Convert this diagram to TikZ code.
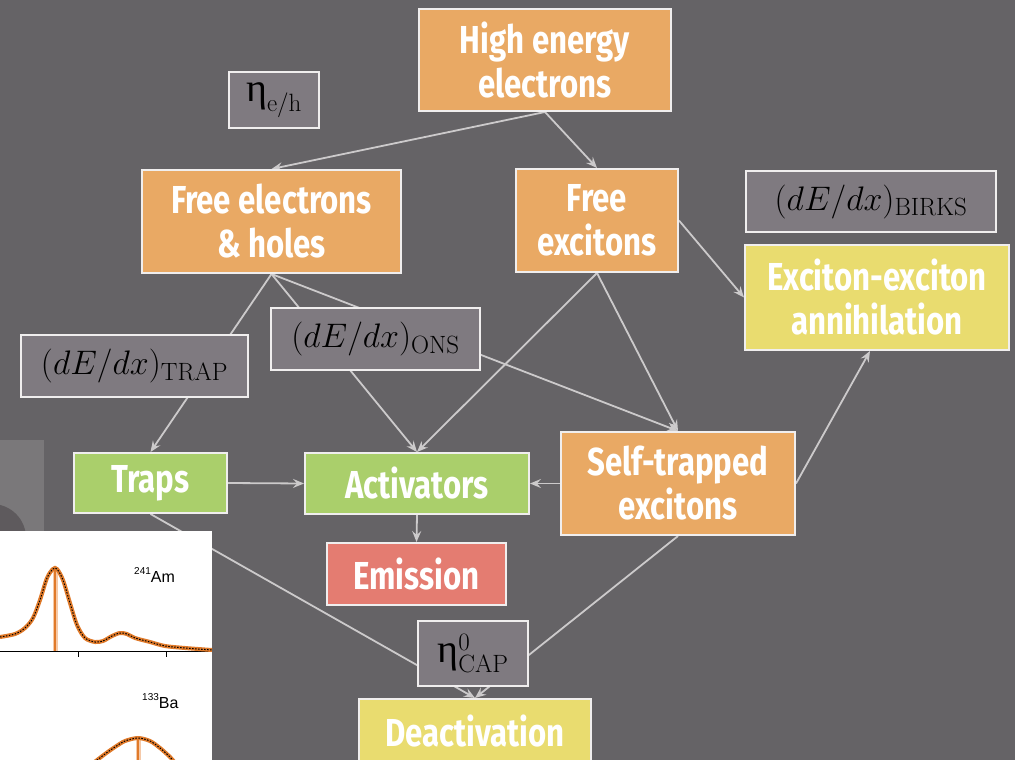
\RequirePackage{fix-cm}
\documentclass[tikz,border=0pt]{standalone}
\usepackage{fontspec}
\newfontfamily\bx[FakeStretch=0.8]{Fira Sans}
\newfontfamily\grk{Liberation Serif}
\newfontfamily\plotfont{Liberation Sans}
\usetikzlibrary{arrows.meta,calc}
\DeclareMathSizes{34}{34}{25}{18}
\definecolor{bgc}{HTML}{656366}
\definecolor{orangec}{HTML}{E9A964}
\definecolor{yellowc}{HTML}{E9DC6F}
\definecolor{greenc}{HTML}{AACF6B}
\definecolor{redc}{HTML}{E47C71}
\definecolor{labgray}{HTML}{7F7A80}
\definecolor{borderc}{HTML}{F0EEEE}
\definecolor{linec}{HTML}{CCCACB}
\definecolor{decoc}{HTML}{7A787A}
\definecolor{decodark}{HTML}{5E5A5D}
\definecolor{fitc}{HTML}{E07A2A}
\definecolor{bandc}{HTML}{F5C9A8}
\pgfdeclarelayer{bg}
\pgfdeclarelayer{edges}
\pgfsetlayers{bg,edges,main}
\newcommand{\bigeta}{\mbox{\grk\fontsize{40}{40}\selectfont η}}
\tikzset{
  box/.style={draw=borderc, line width=2pt, inner sep=0pt, align=center, text=white,
    font=\bx\bfseries\fontsize{39}{44}\selectfont},
  ob/.style={box, fill=orangec},
  yb/.style={box, fill=yellowc},
  gb/.style={box, fill=greenc},
  rb/.style={box, fill=redc},
  lab/.style={draw=borderc, line width=2pt, fill=labgray, inner sep=0pt, text=black,
    font=\fontsize{34}{40}\selectfont},
  conn/.style={draw=linec, line width=1.8pt, -{Stealth[length=11pt,width=9pt,inset=4pt]}}
}
\begin{document}
\begin{tikzpicture}[x=1pt,y=-1pt]
\useasboundingbox (0,0) rectangle (1015,760);
\begin{pgfonlayer}{bg}
  \fill[bgc] (0,0) rectangle (1015,760);
  \begin{scope}
    \clip (0,440) rectangle (44,531);
    \fill[decoc] (0,440) rectangle (44,531);
    \fill[decodark] (-8,538) circle (34);
  \end{scope}
\end{pgfonlayer}

% main nodes
\node[ob, minimum width=252pt, minimum height=102pt] (he) at (545,60) {High energy\\electrons};
\node[ob, minimum width=259pt, minimum height=103pt] (feh) at (271.5,221.5) {Free electrons\\\& holes};
\node[ob, minimum width=162pt, minimum height=103pt] (fx) at (597,220.5) {Free\\excitons};
\node[yb, minimum width=264pt, minimum height=105pt] (ann) at (877,297.5) {Exciton-exciton\\annihilation};
\node[gb, minimum width=153pt, minimum height=60pt] (traps) at (150.5,483) {Traps};
\node[gb, minimum width=224pt, minimum height=61pt] (act) at (417,483.5) {Activators};
\node[ob, minimum width=234pt, minimum height=103pt] (ste) at (678,483.5) {Self-trapped\\excitons};
\node[rb, minimum width=179pt, minimum height=62pt] (emi) at (416.5,574) {Emission};
\node[yb, minimum width=232pt, minimum height=64pt] (deact) at (475,731) {Deactivation};

% connectors
\begin{pgfonlayer}{edges}
  \draw[conn] (he.south) -- (feh.north);
  \draw[conn] (he.south) -- (fx.north);
  \draw[conn] (feh.south) -- (traps.north);
  \draw[conn] (feh.south) -- (act.north);
  \draw[conn] (feh.south) -- (ste.north);
  \draw[conn] (fx.south) -- (act.north);
  \draw[conn] (fx.south) -- (ste.north);
  \draw[conn] (fx.east) -- (ann.west);
  \draw[conn] (ste.east) -- ($(ann.south)+(-7,0)$);
  \draw[conn] (traps.east) -- (act.west);
  \draw[conn] (ste.west) -- (act.east);
  \draw[conn] (act.south) -- (emi.north);
  \draw[conn] (traps.south) -- (deact.north);
  \draw[conn] (ste.south) -- (deact.north);
\end{pgfonlayer}

% parameter labels (on top of connectors)
\node[lab, minimum width=90pt, minimum height=56pt] (eh) at (274,100) {$\bigeta_{\mathrm{e/h}}$};
\node[lab, minimum width=250pt, minimum height=61pt] (birks) at (871,201.5) {$(dE/dx)_{\mathrm{BIRKS}}$};
\node[lab, minimum width=227pt, minimum height=62pt] (trap) at (134.5,366) {$(dE/dx)_{\mathrm{TRAP}}$};
\node[lab, minimum width=209pt, minimum height=62pt] (ons) at (375.5,339) {$(dE/dx)_{\mathrm{ONS}}$};
\node[lab, minimum width=110pt, minimum height=65pt] (cap) at (473,653.5) {$\bigeta^{0}_{\mathrm{CAP}}$};

% inset plot
\begin{scope}
  \clip (0,531) rectangle (212,760);
  \fill[white] (0,531) rectangle (212,760);
  % top panel
  \draw[bandc, line width=5pt] (55,569) -- (55,651);
  \draw[fitc, line width=1.5pt] (55,569) -- (55,651);
  \draw[black, line width=0.8pt] (0,651) -- (212,651);
  \draw[black, line width=0.8pt] (78,651) -- (78,657) (166,651) -- (166,657);
  \draw[fitc, line width=4pt] plot[smooth] coordinates {(0,637) (15,634) (25,628) (33,618) (40,600) (47,578) (53,569) (57,569) (63,580) (70,603) (77,625) (85,638) (95,642) (103,641) (112,636) (120,633) (127,634) (135,638) (150,642) (165,646) (185,648) (212,650)};
  \draw[black, line width=1pt, dash pattern=on 1.5pt off 1.5pt] plot[smooth] coordinates {(0,637) (15,634) (25,628) (33,618) (40,600) (47,578) (53,569) (57,569) (63,580) (70,603) (77,625) (85,638) (95,642) (103,641) (112,636) (120,633) (127,634) (135,638) (150,642) (165,646) (185,648) (212,650)};
  \node[anchor=base west, inner sep=0pt, font=\plotfont\fontsize{16}{16}\selectfont] (am) at (134,582) {\raisebox{8pt}{\fontsize{10}{10}\selectfont 241}Am};
  % bottom panel
  \draw[bandc, line width=5pt] (138,738) -- (138,762);
  \draw[fitc, line width=1.5pt] (138,738) -- (138,762);
  \draw[fitc, line width=4pt] plot[smooth] coordinates {(92,764) (105,754) (115,747) (125,741) (138,738) (150,741) (160,748) (170,757) (176,764)};
  \draw[black, line width=1pt, dash pattern=on 1.5pt off 1.5pt] plot[smooth] coordinates {(92,764) (105,754) (115,747) (125,741) (138,738) (150,741) (160,748) (170,757) (176,764)};
  \node[anchor=base west, inner sep=0pt, font=\plotfont\fontsize{16}{16}\selectfont] (ba) at (142,708) {\raisebox{8pt}{\fontsize{10}{10}\selectfont 133}Ba};
\end{scope}
\end{tikzpicture}
\end{document}
